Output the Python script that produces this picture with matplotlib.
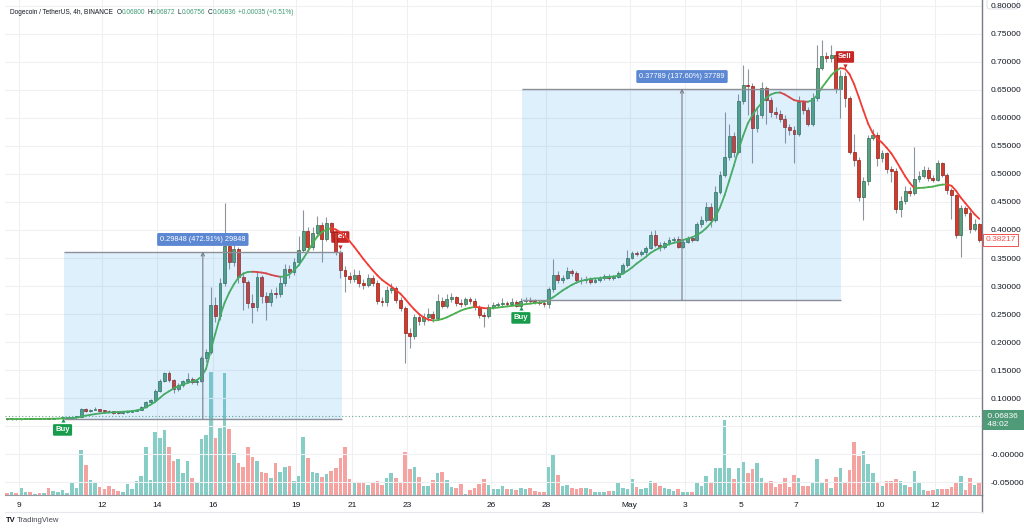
import numpy as np
import matplotlib.pyplot as plt
from matplotlib.collections import LineCollection
from matplotlib.patches import Rectangle, FancyBboxPatch
from matplotlib.lines import Line2D
import matplotlib.transforms as mtransforms

plt.rcParams['font.family'] = ['Liberation Sans', 'DejaVu Sans']

# DOGE/USDT 4h candles (Apr 8 16:00 -> May 13)
closes = [0.0620, 0.0625, 0.0618, 0.0622, 0.0628, 0.0624, 0.0630, 0.0627, 0.0633, 0.0629,
          0.0636, 0.0640, 0.0645, 0.0650, 0.0660, 0.0668, 0.0810, 0.0765, 0.0790, 0.0800,
          0.0775, 0.0770, 0.0760, 0.0735, 0.0728, 0.0745, 0.0752, 0.0765, 0.0790, 0.0840,
          0.0920, 0.0960, 0.1130, 0.1300, 0.1450, 0.1320, 0.1160, 0.1230, 0.1300, 0.1340,
          0.1280, 0.1310, 0.1710, 0.182, 0.266, 0.246, 0.305, 0.371, 0.343, 0.366,
          0.316, 0.307, 0.270, 0.262, 0.316, 0.282, 0.271, 0.287, 0.285, 0.305,
          0.330, 0.325, 0.343, 0.364, 0.398, 0.370, 0.395, 0.409, 0.384, 0.412,
          0.396, 0.361, 0.329, 0.317, 0.313, 0.320, 0.305, 0.301, 0.315, 0.306,
          0.273, 0.272, 0.293, 0.296, 0.275, 0.260, 0.216, 0.210, 0.245, 0.238,
          0.244, 0.250, 0.243, 0.273, 0.265, 0.277, 0.280, 0.270, 0.268, 0.276,
          0.274, 0.262, 0.248, 0.246, 0.263, 0.266, 0.267, 0.270, 0.268, 0.271,
          0.265, 0.273, 0.275, 0.273, 0.271, 0.270, 0.267, 0.295, 0.320, 0.310,
          0.315, 0.326, 0.324, 0.311, 0.310, 0.313, 0.308, 0.311, 0.314, 0.317,
          0.315, 0.316, 0.323, 0.337, 0.350, 0.359, 0.357, 0.360, 0.368, 0.391,
          0.373, 0.369, 0.377, 0.383, 0.384, 0.370, 0.378, 0.385, 0.383, 0.410,
          0.417, 0.441, 0.418, 0.468, 0.498, 0.530, 0.568, 0.540, 0.630, 0.659,
          0.657, 0.582, 0.605, 0.653, 0.632, 0.611, 0.608, 0.599, 0.584, 0.579,
          0.571, 0.628, 0.615, 0.590, 0.635, 0.689, 0.711, 0.707, 0.713, 0.652,
          0.675, 0.636, 0.539, 0.525, 0.459, 0.488, 0.564, 0.570, 0.529, 0.537,
          0.509, 0.505, 0.438, 0.452, 0.470, 0.466, 0.491, 0.497, 0.507, 0.493,
          0.490, 0.520, 0.499, 0.471, 0.462, 0.391, 0.439, 0.430, 0.402, 0.410,
          0.382]

highs = [0.0628, 0.0631, 0.0627, 0.0629, 0.0634, 0.0631, 0.0636, 0.0634, 0.0639, 0.0637,
         0.0642, 0.0646, 0.0651, 0.0657, 0.0666, 0.0675, 0.0830, 0.0825, 0.0805, 0.0840,
         0.0810, 0.0790, 0.0785, 0.0770, 0.0750, 0.0765, 0.0770, 0.0780, 0.0805, 0.0860,
         0.0940, 0.0990, 0.1160, 0.1340, 0.1470, 0.1480, 0.1340, 0.1260, 0.1330, 0.1450,
         0.1370, 0.1340, 0.1750, 0.1880, 0.2980, 0.2800, 0.3150, 0.4480, 0.3900, 0.3800,
         0.3700, 0.3250, 0.3100, 0.2850, 0.3250, 0.3200, 0.2900, 0.2950, 0.2980, 0.3180,
         0.3400, 0.3380, 0.3500, 0.3900, 0.4360, 0.4050, 0.4050, 0.4250, 0.4150, 0.4230,
         0.4150, 0.4000, 0.3650, 0.3350, 0.3250, 0.3300, 0.3280, 0.3120, 0.3220, 0.3200,
         0.3100, 0.2800, 0.3000, 0.3050, 0.3000, 0.2800, 0.2640, 0.2250, 0.2500, 0.2500,
         0.2520, 0.2600, 0.2560, 0.2850, 0.2800, 0.2850, 0.2880, 0.2830, 0.2760, 0.2800,
         0.2800, 0.2780, 0.2660, 0.2540, 0.2680, 0.2710, 0.2720, 0.2790, 0.2740, 0.2780,
         0.2750, 0.2780, 0.2810, 0.2800, 0.2770, 0.2750, 0.2740, 0.2980, 0.3480, 0.3260,
         0.3200, 0.3340, 0.3300, 0.3270, 0.3160, 0.3180, 0.3160, 0.3150, 0.3180, 0.3220,
         0.3210, 0.3200, 0.3270, 0.3410, 0.3640, 0.3620, 0.3620, 0.3640, 0.3720, 0.3980,
         0.4000, 0.3780, 0.3800, 0.3870, 0.3880, 0.3890, 0.3820, 0.3900, 0.3890, 0.4150,
         0.4250, 0.4500, 0.4480, 0.4780, 0.5050, 0.6100, 0.5900, 0.5750, 0.6420, 0.6950,
         0.6880, 0.6620, 0.6200, 0.6650, 0.6580, 0.6380, 0.6200, 0.6150, 0.6050, 0.5900,
         0.5850, 0.6400, 0.6330, 0.6200, 0.6450, 0.7300, 0.7390, 0.7180, 0.7300, 0.7200,
         0.6850, 0.6820, 0.6400, 0.5720, 0.5300, 0.4950, 0.5700, 0.5800, 0.5750, 0.5430,
         0.5400, 0.5150, 0.5100, 0.4600, 0.4780, 0.4760, 0.5480, 0.5050, 0.5150, 0.5120,
         0.4980, 0.5250, 0.5220, 0.5020, 0.4750, 0.4650, 0.4450, 0.4420, 0.4350, 0.4200,
         0.4120]

lows = [0.0612, 0.0616, 0.0611, 0.0614, 0.0619, 0.0618, 0.0621, 0.0620, 0.0624, 0.0622,
        0.0627, 0.0632, 0.0637, 0.0642, 0.0648, 0.0655, 0.0660, 0.0750, 0.0755, 0.0780,
        0.0765, 0.0755, 0.0745, 0.0720, 0.0715, 0.0720, 0.0735, 0.0745, 0.0760, 0.0780,
        0.0830, 0.0900, 0.0950, 0.1110, 0.1280, 0.1290, 0.1090, 0.1120, 0.1200, 0.1260,
        0.1250, 0.1240, 0.1290, 0.1650, 0.1780, 0.2350, 0.2400, 0.3000, 0.3300, 0.3350,
        0.3050, 0.2570, 0.2600, 0.2340, 0.2550, 0.2700, 0.2400, 0.2650, 0.2780, 0.2800,
        0.3000, 0.3150, 0.3200, 0.3380, 0.3600, 0.3600, 0.3650, 0.3900, 0.3430, 0.3800,
        0.3880, 0.3550, 0.3150, 0.2900, 0.3050, 0.3080, 0.2980, 0.2950, 0.2980, 0.3000,
        0.2680, 0.2650, 0.2650, 0.2880, 0.2700, 0.2550, 0.1630, 0.1900, 0.2050, 0.2300,
        0.2300, 0.2380, 0.2360, 0.2400, 0.2600, 0.2600, 0.2720, 0.2650, 0.2620, 0.2650,
        0.2680, 0.2580, 0.2420, 0.2270, 0.2430, 0.2590, 0.2620, 0.2640, 0.2640, 0.2650,
        0.2620, 0.2630, 0.2700, 0.2690, 0.2670, 0.2660, 0.2630, 0.2600, 0.2900, 0.3050,
        0.3050, 0.3120, 0.3180, 0.3050, 0.3030, 0.3060, 0.3030, 0.3050, 0.3080, 0.3110,
        0.3110, 0.3110, 0.3140, 0.3210, 0.3340, 0.3480, 0.3530, 0.3540, 0.3560, 0.3660,
        0.3700, 0.3630, 0.3660, 0.3740, 0.3790, 0.3670, 0.3680, 0.3760, 0.3790, 0.3810,
        0.4060, 0.4150, 0.4050, 0.4150, 0.4640, 0.4950, 0.5250, 0.5300, 0.5350, 0.6250,
        0.6050, 0.5200, 0.5750, 0.6000, 0.5900, 0.6020, 0.6000, 0.5920, 0.5550, 0.5700,
        0.5200, 0.5680, 0.6080, 0.5850, 0.5850, 0.6300, 0.6850, 0.7000, 0.7000, 0.6450,
        0.6000, 0.6200, 0.5350, 0.5150, 0.4520, 0.4180, 0.4800, 0.5600, 0.5150, 0.5220,
        0.5020, 0.4850, 0.4300, 0.4230, 0.4460, 0.4600, 0.4620, 0.4860, 0.4920, 0.4880,
        0.4850, 0.4870, 0.4940, 0.4650, 0.4200, 0.3850, 0.3520, 0.4250, 0.3950, 0.3980,
        0.3780]

# volume, relative units (bar height)
volumes = [2, 3, 2, 7, 3, 3, 1, 2, 2, 7,
           4, 3, 5, 2, 13, 7, 45, 30, 15, 13,
           8, 6, 9, 6, 4, 3, 11, 6, 14, 19,
           48, 15, 63, 57, 65, 48, 34, 36, 22, 34,
           17, 12, 56, 60, 123, 57, 67, 122, 66, 42,
           32, 28, 48, 38, 34, 23, 22, 17, 32, 23,
           28, 29, 14, 19, 58, 37, 23, 22, 18, 21,
           24, 27, 37, 48, 16, 13, 13, 13, 10, 13,
           14, 10, 17, 22, 17, 13, 43, 26, 28, 18,
           9, 9, 15, 22, 23, 15, 8, 7, 11, 1,
           5, 7, 11, 16, 10, 6, 6, 9, 6, 6,
           5, 7, 6, 7, 4, 3, 3, 28, 41, 20,
           9, 10, 7, 6, 7, 7, 6, 3, 3, 3,
           4, 4, 12, 7, 6, 16, 8, 6, 7, 14,
           12, 9, 7, 6, 4, 6, 3, 3, 3, 13,
           9, 19, 13, 27, 27, 75, 27, 16, 27, 33,
           22, 26, 32, 17, 12, 14, 8, 11, 17, 8,
           20, 17, 9, 9, 13, 36, 13, 16, 7, 18,
           27, 13, 25, 53, 39, 44, 31, 22, 12, 9,
           14, 14, 16, 14, 10, 8, 24, 12, 5, 4,
           5, 6, 6, 6, 8, 12, 19, 5, 17, 10,
           12]

# trend line (smoothed average) as drawn on the chart
trend = [0.0622, 0.0622, 0.0623, 0.0623, 0.0624, 0.0625, 0.0626, 0.0627, 0.0628, 0.0629,
         0.0630, 0.0632, 0.0635, 0.0638, 0.0642, 0.0647, 0.0670, 0.0685, 0.0700, 0.0712,
         0.0725, 0.0733, 0.0740, 0.0745, 0.0750, 0.0755, 0.0760, 0.0767, 0.0778, 0.0800,
         0.0835, 0.0880, 0.0930, 0.1000, 0.1070, 0.1120, 0.1170, 0.1210, 0.1240, 0.1270,
         0.1295, 0.1320, 0.1380, 0.1520, 0.1850, 0.2150, 0.2450, 0.2700, 0.2880, 0.3030,
         0.3150, 0.3220, 0.3250, 0.3255, 0.3250, 0.3240, 0.3225, 0.3200, 0.3180, 0.3165,
         0.3170, 0.3210, 0.3280, 0.3370, 0.3490, 0.3620, 0.3760, 0.3880, 0.3960, 0.4010,
         0.4030, 0.4010, 0.3960, 0.3890, 0.3800, 0.3700, 0.3590, 0.3480, 0.3380, 0.3280,
         0.3190, 0.3110, 0.3050, 0.2990, 0.2930, 0.2860, 0.2770, 0.2670, 0.2580, 0.2500,
         0.2440, 0.2400, 0.2385, 0.2390, 0.2410, 0.2440, 0.2480, 0.2520, 0.2560, 0.2590,
         0.2610, 0.2625, 0.2620, 0.2605, 0.2600, 0.2605, 0.2615, 0.2625, 0.2635, 0.2645,
         0.2655, 0.2665, 0.2675, 0.2685, 0.2695, 0.2705, 0.2720, 0.2750, 0.2800, 0.2860,
         0.2920, 0.2970, 0.3020, 0.3060, 0.3090, 0.3110, 0.3125, 0.3135, 0.3140, 0.3150,
         0.3160, 0.3170, 0.3185, 0.3220, 0.3270, 0.3330, 0.3400, 0.3460, 0.3520, 0.3590,
         0.3640, 0.3680, 0.3715, 0.3745, 0.3770, 0.3790, 0.3820, 0.3845, 0.3870, 0.3910,
         0.3960, 0.4030, 0.4120, 0.4230, 0.4400, 0.4620, 0.4880, 0.5150, 0.5430, 0.5680,
         0.5900, 0.6050, 0.6170, 0.6270, 0.6360, 0.6420, 0.6450, 0.6455, 0.6420, 0.6370,
         0.6320, 0.6300, 0.6295, 0.6290, 0.6320, 0.6410, 0.6540, 0.6650, 0.6760, 0.6840,
         0.6890, 0.6880, 0.6780, 0.6600, 0.6370, 0.6130, 0.5900, 0.5730, 0.5630, 0.5560,
         0.5470, 0.5370, 0.5240, 0.5100, 0.4960, 0.4840, 0.4745, 0.4750, 0.4755, 0.4765,
         0.4775, 0.4795, 0.4810, 0.4815, 0.4790, 0.4700, 0.4580, 0.4480, 0.4380, 0.4280,
         0.4200]

# date axis: candle position of each labelled day (6 candles a day)
day_labels = ['9', '12', '14', '16', '19', '21', '23', '26', '28', 'May', '3', '5', '7', '10', '12']
day_offsets = [-3, 0, 2, 4, 7, 9, 11, 14, 16, 19, 21, 23, 25, 28, 30]  # days from Apr 12

# price range measurements drawn on the chart
range_start = [12.3, 111.2]
range_end = [72.4, 180.1]
range_mid = [42.3, 145.8]
range_low = [0.06312, 0.27463]
range_high = [0.36160, 0.65252]
range_text = ['0.29848 (472.91%) 29848', '0.37789 (137.60%) 37789']

# buy / sell signals
signal_idx = [12, 72, 111, 181]
signal_price = [0.043, 0.3875, 0.243, 0.709]
signal_kind = ['Buy', 'Sell', 'Buy', 'Sell']

last_price = 0.38217
marked_price = 0.06836

header_parts = [('Dogecoin / TetherUS, 4h, BINANCE', '#131722', 3.5),
                ('O', '#131722', 0), ('0.06800', '#3f9a72', 2.5),
                ('H', '#131722', 0), ('0.06872', '#3f9a72', 2.5),
                ('L', '#131722', 0), ('0.06756', '#3f9a72', 2.5),
                ('C', '#131722', 0), ('0.06836', '#3f9a72', 2.5),
                ('+0.00035 (+0.51%)', '#3f9a72', 0)]

GREEN = '#5a9f7f'
GREEN_EDGE = '#2f6b50'
RED = '#d33a2c'
RED_EDGE = '#8e1f16'

N = len(closes)
x = np.arange(N)
opens = np.array([0.0622] + closes[:-1])
closes_a = np.array(closes)
up = closes_a >= opens

fig = plt.figure(figsize=(10.24, 5.30), dpi=100)
rect = [5 / 1024, 35 / 530, 977 / 1024, 495 / 530]
ax_vol = fig.add_axes(rect)
ax = fig.add_axes(rect, sharex=ax_vol)
ax_vol.set_zorder(0)
ax.set_zorder(1)
ax.patch.set_visible(False)

# volume
vol_colors = np.where(up, '#86cdc5', '#f5a3a0')
ax_vol.bar(x, volumes, width=0.78, color=vol_colors, linewidth=0)
ax_vol.set_ylim(0, 495)
ax_vol.axis('off')

# grid
ax.set_xlim(-0.43, 210.6)
ax.set_ylim(-0.0732, 0.8107)
yt = np.round(np.arange(-0.05, 0.801, 0.05), 2)
ax.set_yticks(yt)
# the 0.05 label sits under the marked-price tag on the chart, so it stays blank
ytl = []
for v in yt:
    if abs(v) < 1e-9:
        ytl.append('-0.00000')
    elif abs(v - 0.05) < 1e-9:
        ytl.append('')
    else:
        ytl.append(f'{v:.5f}')
ax.set_yticklabels(ytl)
xt = [20.5 + 6 * d for d in day_offsets]
ax.set_xticks(xt)
ax.set_xticklabels(day_labels)
ax.grid(True, color='#eef0f4', lw=0.8)
ax.set_axisbelow(True)
ax.yaxis.tick_right()
ax.tick_params(axis='both', length=0, labelsize=6, labelcolor='#131722')
ax.tick_params(axis='y', pad=6)
ax.tick_params(axis='x', pad=5)
for s in ['left', 'top']:
    ax.spines[s].set_visible(False)
ax.spines['right'].set_color('#787b86')
ax.spines['bottom'].set_color('#9598a1')
ax.spines['right'].set_linewidth(1.0)
ax.spines['bottom'].set_linewidth(0.8)

# candles
ax.vlines(x, lows, highs, color='#8f939c', lw=0.8, zorder=3)
body_lo = np.minimum(opens, closes_a)
body_h = np.maximum(np.abs(closes_a - opens), 0.0015)
ax.bar(x, body_h, bottom=body_lo, width=0.62,
       color=np.where(up, GREEN, RED), edgecolor=np.where(up, GREEN_EDGE, RED_EDGE),
       linewidth=0.5, zorder=4)

# trend line coloured by slope
tr = np.array(trend)
pts = np.column_stack([x, tr])
segs = np.stack([pts[:-1], pts[1:]], axis=1)
seg_cols = np.where(np.diff(tr) >= 0, '#4caf50', '#f23b33')
ax.add_collection(LineCollection(segs, colors=seg_cols, linewidths=1.3, zorder=5,
                                 capstyle='round'))

# dotted marked price line
ax.axhline(marked_price, color='#6aa88b', ls=(0, (1, 2)), lw=0.8, zorder=2)

# signals
for i, p, kind in zip(signal_idx, signal_price, signal_kind):
    col = '#169c4a' if kind == 'Buy' else '#c62828'
    ax.text(i, p, kind, ha='center', va='center', fontsize=5.5, color='white',
            fontweight='bold', zorder=3.5,
            bbox=dict(boxstyle='round,pad=0.3,rounding_size=0.15', fc=col, ec='none'))
    if kind == 'Buy':
        ax.plot(i, p + 0.017, marker='^', ms=3, color=col, mec='none', zorder=3.5)
    else:
        ax.plot(i, p - 0.017, marker='v', ms=3, color=col, mec='none', zorder=3.5)

# price range boxes
for x0, x1, xm, lo, hi, txt in zip(range_start, range_end, range_mid, range_low, range_high, range_text):
    ax.add_patch(Rectangle((x0, lo), x1 - x0, hi - lo, facecolor='#2196f3', alpha=0.14,
                           edgecolor='none', zorder=6))
    ax.hlines([lo, hi], x0, x1, color='#8c8f98', lw=1.0, zorder=7)
    ax.annotate('', xy=(xm, hi), xytext=(xm, lo),
                arrowprops=dict(arrowstyle='->', color='#787b86', lw=0.8,
                                shrinkA=0, shrinkB=0, mutation_scale=6), zorder=7)
    ax.text(xm, hi + 0.0215, txt, ha='center', va='center', fontsize=5.3, color='white',
            zorder=9, bbox=dict(boxstyle='round,pad=0.4,rounding_size=0.2',
                                fc='#5b87d3', ec='none'))

# right-hand price labels
btrans = mtransforms.blended_transform_factory(ax.transAxes, ax.transData)
ax.text(1.0035, last_price, f'{last_price:.5f}', transform=btrans, ha='left', va='center',
        fontsize=6, color='#ef5350', clip_on=False, zorder=10,
        bbox=dict(boxstyle='square,pad=0.25', fc='white', ec='#ef5350', lw=0.7))
ax.text(1.0035, marked_price - 0.008, f' {marked_price:.5f}  \n 48:02', transform=btrans,
        ha='left', va='center', fontsize=6, color='white', clip_on=False, zorder=10,
        linespacing=1.15,
        bbox=dict(boxstyle='square,pad=0.35', fc='#4f9a77', ec='none'))

# header, pieces placed one after another
fy = 1 - 12 / 530
renderer = fig.canvas.get_renderer()
hx = 10.0
for txt, col, gap in header_parts:
    t = fig.text(hx / 1024, fy, txt, fontsize=4.7, color=col, va='center')
    hx += t.get_window_extent(renderer).width + gap

# footer / frame details
fig.add_artist(Line2D([982 / 1024, 982 / 1024], [1 - 512 / 530, 1 - 495 / 530],
                      color='#787b86', lw=1.0))
fig.add_artist(Line2D([5 / 1024, 982 / 1024], [1 - 512 / 530, 1 - 512 / 530],
                      color='#e6e8ee', lw=0.8))
fig.add_artist(FancyBboxPatch((987 / 1024, 1 - 9 / 530), 31 / 1024, 12 / 530,
                              boxstyle='round,pad=0,rounding_size=0.004',
                              fc='none', ec='#e0e3eb', lw=0.8, transform=fig.transFigure))
fig.text(6 / 1024, 1 - 520 / 530, 'TV', fontsize=5.5, fontweight='bold', color='#131722', va='center')
fig.text(17 / 1024, 1 - 520 / 530, 'TradingView', fontsize=5.5, color='#434651', va='center')

fig.savefig('out.png', dpi=100)
